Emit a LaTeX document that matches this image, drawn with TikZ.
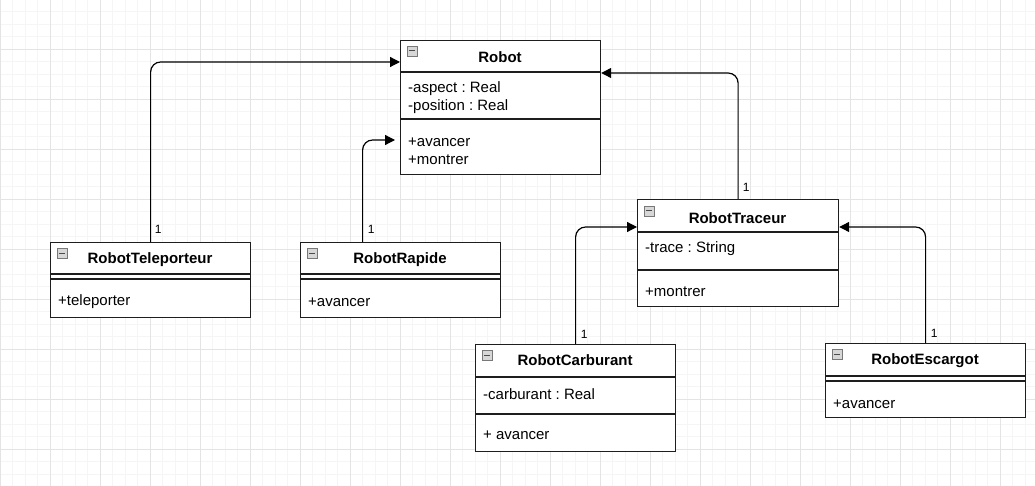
\documentclass[tikz,border=0pt]{standalone}
\usepackage{fontspec}
\setmainfont{Liberation Sans}
\usetikzlibrary{arrows.meta,calc}
\definecolor{gridmaj}{RGB}{228,228,228}
\definecolor{gridmin}{RGB}{245,245,245}
\definecolor{boxline}{RGB}{30,30,30}
\definecolor{iconfill}{RGB}{215,215,215}
\definecolor{iconline}{RGB}{120,120,120}
\begin{document}
\frenchspacing
\begin{tikzpicture}[x=1pt,y=-1pt,
  box/.style={draw=boxline, line width=1.2pt, fill=white, inner sep=0pt, anchor=north west},
  ttl/.style={font=\fontsize{15}{18}\selectfont\bfseries, inner sep=0pt},
  txt/.style={font=\fontsize{15}{18}\selectfont, inner sep=0pt, anchor=west},
  sepline/.style={draw=boxline, line width=1.2pt},
  conn/.style={draw=black, line width=1.2pt, rounded corners=10pt, -{Triangle[length=10pt,width=10pt]}},
  lbl/.style={font=\fontsize{12}{14}\selectfont, inner sep=0pt, anchor=base west},
  icon/.style={draw=iconline, fill=iconfill, minimum size=10pt, inner sep=0pt, line width=0.8pt},
  iconbar/.style={draw=black!70, line width=1pt}
]
\useasboundingbox (0,0) rectangle (1035,486);
\fill[white] (0,0) rectangle (1035,486);
% grid
\foreach \i in {0,...,82} \draw[gridmin, line width=0.6pt] (\i*12.5,0) -- (\i*12.5,486);
\foreach \j in {0,...,39} \draw[gridmin, line width=0.6pt] (0,\j*12.5-1) -- (1035,\j*12.5-1);
\foreach \i in {0,...,20} \draw[gridmaj, line width=0.8pt] (\i*50,0) -- (\i*50,486);
\foreach \j in {1,...,9} \draw[gridmaj, line width=0.8pt] (0,\j*50-1) -- (1035,\j*50-1);

% ---------- Robot ----------
\node[box, minimum width=200pt, minimum height=134pt] (robot) at (400,40) {};
\draw[sepline] (400,72) -- (600,72);
\draw[sepline] (400,119) -- (600,119);
\node[ttl] (robotT) at (500,57) {Robot};
\node[txt] (robotA1) at (408,89) {-aspect : Real};
\node[txt] (robotA2) at (408,107) {-position : Real};
\node[txt] (robotM1) at (408,142) {+avancer};
\node[txt] (robotM2) at (408,160) {+montrer};
\node[icon] (robotI) at (412,51) {};
\draw[iconbar] ([xshift=2.2pt]robotI.west) -- ([xshift=-2.2pt]robotI.east);

% ---------- RobotTeleporteur ----------
\node[box, minimum width=200pt, minimum height=75pt] (tel) at (50,242) {};
\draw[sepline] (50,274) -- (250,274);
\draw[sepline] (50,279) -- (250,279);
\node[ttl] (telT) at (150,260) {RobotTeleporteur};
\node[txt] (telM1) at (58,302) {+teleporter};
\node[icon] (telI) at (62,253) {};
\draw[iconbar] ([xshift=2.2pt]telI.west) -- ([xshift=-2.2pt]telI.east);

% ---------- RobotRapide ----------
\node[box, minimum width=200pt, minimum height=75pt] (rap) at (300,242) {};
\draw[sepline] (300,274) -- (500,274);
\draw[sepline] (300,279) -- (500,279);
\node[ttl] (rapT) at (400,260) {RobotRapide};
\node[txt] (rapM1) at (308,302) {+avancer};
\node[icon] (rapI) at (312,253) {};
\draw[iconbar] ([xshift=2.2pt]rapI.west) -- ([xshift=-2.2pt]rapI.east);

% ---------- RobotTraceur ----------
\node[box, minimum width=201pt, minimum height=107pt] (trac) at (637,199) {};
\draw[sepline] (637,232) -- (838,232);
\draw[sepline] (637,270) -- (838,270);
\node[ttl] (tracT) at (737.5,218) {RobotTraceur};
\node[txt] (tracA1) at (645,249) {-trace : String};
\node[txt] (tracM1) at (645,292) {+montrer};
\node[icon] (tracI) at (649,211) {};
\draw[iconbar] ([xshift=2.2pt]tracI.west) -- ([xshift=-2.2pt]tracI.east);

% ---------- RobotCarburant ----------
\node[box, minimum width=200pt, minimum height=107pt] (carb) at (475,344) {};
\draw[sepline] (475,377) -- (675,377);
\draw[sepline] (475,414) -- (675,414);
\node[ttl] (carbT) at (575,360) {RobotCarburant};
\node[txt] (carbA1) at (483,394) {-carburant : Real};
\node[txt] (carbM1) at (483,435) {+ avancer};
\node[icon] (carbI) at (487,355) {};
\draw[iconbar] ([xshift=2.2pt]carbI.west) -- ([xshift=-2.2pt]carbI.east);

% ---------- RobotEscargot ----------
\node[box, minimum width=200pt, minimum height=74pt] (esc) at (825,343) {};
\draw[sepline] (825,376) -- (1025,376);
\draw[sepline] (825,381) -- (1025,381);
\node[ttl] (escT) at (925,361) {RobotEscargot};
\node[txt] (escM1) at (833,404) {+avancer};
\node[icon] (escI) at (837,354) {};
\draw[iconbar] ([xshift=2.2pt]escI.west) -- ([xshift=-2.2pt]escI.east);

% ---------- connectors ----------
\draw[conn] (tel.north) |- ([yshift=-22pt]robot.north west);
\node[lbl] (l1) at ([shift={(4pt,8pt)}]tel.north) {1};

\draw[conn, shorten >=5pt] ([xshift=-38pt]rap.north) |- ([yshift=-100pt]robot.north west);
\node[lbl] (l2) at ([shift={(-33pt,8pt)}]rap.north) {1};

\draw[conn] (trac.north) |- ([yshift=-33pt]robot.north east);
\node[lbl] (l3) at ([shift={(4.5pt,7pt)}]trac.north) {1};

\draw[conn] (carb.north) |- ([yshift=-28pt]trac.north west);
\node[lbl] (l4) at ([shift={(5pt,6pt)}]carb.north) {1};

\draw[conn] (esc.north) |- ([yshift=-28pt]trac.north east);
\node[lbl] (l5) at ([shift={(5pt,6pt)}]esc.north) {1};
\end{tikzpicture}
\end{document}
